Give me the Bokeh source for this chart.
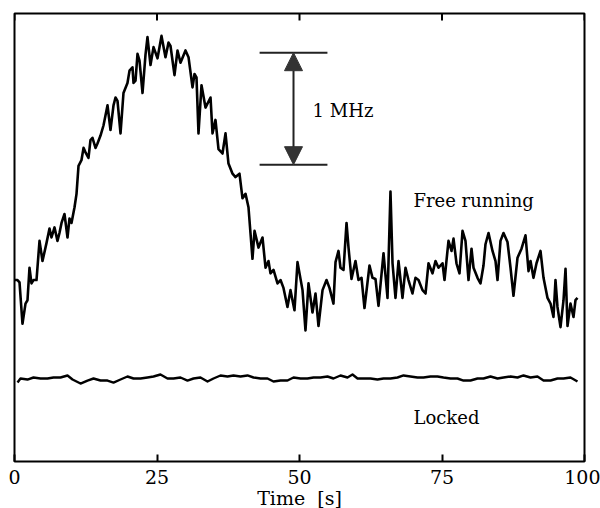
from bokeh.plotting import figure
from bokeh.models import (Range1d, FixedTicker, Arrow, NormalHead, Label)
from bokeh.embed import file_html
from bokeh.resources import INLINE

# ---------------- data (time in s, frequency offset in MHz) ----------------
free_t = [0.00, 0.53, 0.88, 1.40, 1.93, 2.28, 2.63, 2.98, 3.33, 3.86, 4.39, 4.91,
          5.61, 6.14, 6.49, 7.02, 7.54, 7.89, 8.25, 8.77, 9.30, 9.65, 10.00, 10.53,
          10.88, 11.23, 11.75, 12.11, 12.46, 12.98, 13.33, 13.68, 14.21, 14.56, 15.09,
          15.61, 16.32, 16.84, 17.37, 17.72, 18.07, 18.60, 19.12, 19.82, 20.18, 20.70,
          20.88, 21.23, 21.58, 21.93, 22.46, 22.98, 23.33, 23.86, 24.39, 25.09, 25.79,
          26.49, 27.02, 27.37, 28.07, 28.60, 29.12, 30.00, 30.53, 31.23, 31.58, 31.93,
          32.28, 32.81, 33.51, 34.39, 34.74, 35.26, 35.79, 36.49, 37.02, 37.54, 38.25,
          38.77, 39.47, 40.00, 40.53, 41.05, 41.40, 41.75, 42.11, 42.81, 43.51, 44.04,
          44.56, 44.91, 45.44, 46.14, 46.67, 47.19, 47.89, 48.42, 49.12, 49.65, 50.53,
          51.05, 51.58, 52.28, 52.81, 53.33, 54.04, 54.74, 55.26, 55.96, 56.32, 56.84,
          57.19, 57.72, 58.25, 58.60, 59.12, 59.82, 60.35, 60.88, 61.40, 62.28, 62.81,
          63.33, 63.86, 64.74, 65.44, 65.96, 66.32, 66.84, 67.37, 68.07, 68.60, 69.12,
          69.82, 70.35, 70.88, 71.58, 72.11, 72.63, 73.33, 73.86, 74.39, 75.09, 75.44,
          76.14, 76.67, 77.02, 77.54, 78.07, 78.60, 79.12, 79.65, 80.18, 80.53, 81.23,
          81.75, 82.28, 82.63, 83.16, 83.86, 84.39, 84.74, 85.26, 85.79, 86.49, 87.02,
          87.54, 88.25, 88.95, 89.65, 90.18, 90.53, 91.05, 91.58, 92.28, 92.81, 93.51,
          94.04, 94.56, 94.91, 95.26, 95.79, 96.32, 96.67, 97.02, 97.54, 98.07, 98.42,
          98.77]
free_v = [1.62, 1.62, 1.60, 1.23, 1.41, 1.44, 1.73, 1.59, 1.62, 1.62, 1.97, 1.79,
          1.95, 2.08, 2.00, 2.09, 1.97, 2.04, 2.13, 2.21, 2.00, 2.17, 2.13, 2.27,
          2.39, 2.64, 2.69, 2.80, 2.76, 2.71, 2.87, 2.89, 2.80, 2.84, 2.91,
          3.00, 3.18, 2.96, 3.18, 3.25, 3.22, 2.93, 3.29, 3.38, 3.49, 3.52,
          3.38, 3.40, 3.64, 3.58, 3.29, 3.63, 3.79, 3.54, 3.70, 3.60, 3.80,
          3.61, 3.74, 3.71, 3.45, 3.67, 3.56, 3.67, 3.61, 3.34, 3.46, 3.43,
          2.93, 3.36, 3.16, 3.25, 2.93, 3.05, 2.79, 2.75, 2.93, 2.66, 2.57,
          2.54, 2.57, 2.35, 2.39, 2.27, 2.04, 1.81, 2.06, 1.91, 2.00, 1.73,
          1.79, 1.68, 1.71, 1.59, 1.62, 1.55, 1.38, 1.53, 1.35, 1.78, 1.53,
          1.17, 1.59, 1.33, 1.50, 1.21, 1.53, 1.62, 1.55, 1.41, 1.78, 1.88,
          1.73, 1.71, 2.13, 1.91, 1.63, 1.79, 1.62, 1.64, 1.37, 1.75, 1.64,
          1.63, 1.39, 1.86, 1.46, 2.41, 1.77, 1.46, 1.79, 1.46, 1.73, 1.62,
          1.50, 1.64, 1.62, 1.53, 1.50, 1.77, 1.68, 1.79, 1.73, 1.77, 1.62,
          1.97, 1.88, 1.99, 1.77, 1.68, 2.06, 1.97, 1.62, 1.90, 1.73, 1.64,
          1.59, 1.75, 1.94, 2.04, 1.88, 1.79, 1.62, 1.97, 2.04, 1.96, 1.73,
          1.48, 1.82, 1.90, 2.02, 1.70, 1.79, 1.64, 1.77, 1.88, 1.64, 1.46,
          1.41, 1.29, 1.62, 1.38, 1.20, 1.44, 1.72, 1.21, 1.41, 1.29, 1.44,
          1.46]

locked_t = [0.53, 1.05, 2.28, 3.33, 4.56, 5.79, 6.84, 8.07, 9.30, 10.18, 11.58, 12.81,
            13.86, 15.09, 16.32, 17.37, 18.60, 19.82, 20.88, 22.11, 23.33, 24.39, 25.61,
            26.84, 27.89, 29.12, 30.35, 31.40, 32.63, 33.86, 34.91, 36.14, 37.37, 38.42,
            39.65, 40.88, 41.93, 43.16, 44.39, 45.44, 46.67, 47.89, 48.95, 50.18, 51.40,
            52.46, 53.68, 54.91, 55.96, 57.19, 58.42, 59.30, 60.18, 61.23, 62.46, 63.68,
            64.74, 65.96, 67.19, 68.25, 69.47, 70.70, 71.75, 72.98, 74.21, 75.26, 76.49,
            77.72, 78.77, 80.00, 81.23, 82.28, 83.51, 84.74, 85.79, 87.02, 88.25, 89.30,
            90.53, 91.75, 92.81, 94.04, 95.26, 96.32, 97.54, 98.77]
locked_v = [0.705, 0.741, 0.732, 0.750, 0.741, 0.741, 0.750, 0.750, 0.768, 0.732, 0.696, 0.723,
            0.741, 0.723, 0.723, 0.705, 0.732, 0.759, 0.741, 0.741, 0.750, 0.759, 0.777,
            0.741, 0.741, 0.750, 0.723, 0.741, 0.750, 0.714, 0.741, 0.768, 0.759, 0.768,
            0.759, 0.768, 0.750, 0.741, 0.741, 0.714, 0.723, 0.723, 0.750, 0.741, 0.741,
            0.750, 0.750, 0.759, 0.741, 0.768, 0.750, 0.777, 0.741, 0.741, 0.741, 0.732,
            0.741, 0.741, 0.750, 0.768, 0.759, 0.750, 0.750, 0.759, 0.759, 0.750, 0.741,
            0.741, 0.723, 0.723, 0.741, 0.741, 0.759, 0.741, 0.750, 0.759, 0.750, 0.768,
            0.750, 0.759, 0.723, 0.723, 0.741, 0.741, 0.750, 0.714]

x_ticks = [0, 25, 50, 75, 100]
x_label = "Time\u00a0\u00a0[s]"
scale_label = "1 MHz"
scale_size = 1.0          # MHz
scale_low = 2.65          # MHz, lower end of the scale bar
scale_x = 48.95           # s, position of the scale arrow
scale_x0, scale_x1 = 43.0, 54.9
labels = [("Free running", 70.0, 2.33), ("Locked", 70.0, 0.39), (scale_label, 52.3, 3.13)]

Y_MAX = 4.0
FONT = "DejaVu Serif"

p = figure(frame_width=570, frame_height=448,
           x_range=Range1d(0, 100), y_range=Range1d(0, Y_MAX),
           output_backend="svg", toolbar_location=None,
           min_border_left=14, min_border_right=16, min_border_top=13,
           min_border_bottom=4, background_fill_color="white",
           border_fill_color="white")
p.grid.visible = False
p.yaxis.visible = False
p.outline_line_color = "black"
p.outline_line_width = 2

xa = p.xaxis[0]
xa.ticker = FixedTicker(ticks=x_ticks)
xa.minor_tick_line_color = None
xa.major_tick_in = 7
xa.major_tick_out = 0
xa.major_tick_line_width = 2
xa.axis_line_color = None
xa.major_label_text_font = FONT
xa.major_label_text_font_size = "19px"
xa.major_label_text_color = "black"
xa.major_label_standoff = 8
xa.axis_label = x_label
xa.axis_label_text_font = FONT
xa.axis_label_text_font_size = "19px"
xa.axis_label_text_font_style = "normal"
xa.axis_label_text_color = "black"
xa.axis_label_standoff = 0

# inward ticks on the top edge of the frame (mirror of the bottom axis ticks)
tick_len = Y_MAX * 7 / 448
p.segment(x0=x_ticks, y0=[Y_MAX] * len(x_ticks), x1=x_ticks,
          y1=[Y_MAX - tick_len] * len(x_ticks), line_color="black", line_width=2)

p.line(free_t, free_v, line_color="black", line_width=2.6, line_join="round")
p.line(locked_t, locked_v, line_color="black", line_width=2.4, line_join="round")

# scale bar
p.segment(x0=[scale_x0, scale_x0], y0=[scale_low, scale_low + scale_size],
          x1=[scale_x1, scale_x1], y1=[scale_low, scale_low + scale_size],
          line_color="#222222", line_width=2)
p.add_layout(Arrow(x_start=scale_x, y_start=scale_low, x_end=scale_x,
                   y_end=scale_low + scale_size, line_color="#222222", line_width=2,
                   start=NormalHead(size=18, fill_color="#333333", line_color="#333333"),
                   end=NormalHead(size=18, fill_color="#333333", line_color="#333333")))

for txt, tx, ty in labels:
    p.add_layout(Label(x=tx, y=ty, text=txt, text_font=FONT, text_font_size="18px",
                       text_color="black", text_baseline="middle", text_align="left"))

open("out.html", "w").write(file_html(p, INLINE))
